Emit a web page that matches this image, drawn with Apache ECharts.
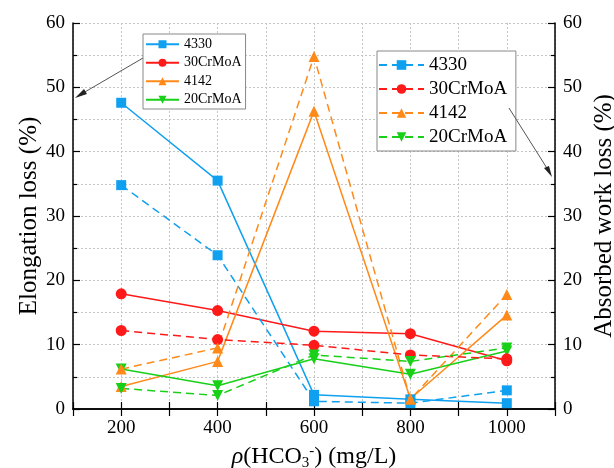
<!DOCTYPE html>
<html><head><meta charset="utf-8">
<script src="https://cdn.jsdelivr.net/npm/echarts@6/dist/echarts.min.js"></script>
<style>html,body{margin:0;padding:0;background:#fff}#c{width:614px;height:468px}</style>
</head><body><div id="c"></div>
<script>
// ---- data ----
const concentrations = [200, 400, 600, 800, 1000];
const xTickLabels = ['200', '400', '600', '800', '1000'];
const steelNames = ['4330', '30CrMoA', '4142', '20CrMoA'];
// Elongation loss (%) - solid lines, left axis
const elong4330 = [47.6, 35.5, 2.2, 1.5, 0.9];
const elong30CrMoA = [17.9, 15.3, 12.1, 11.7, 7.5];
const elong4142 = [3.5, 7.4, 46.3, 1.6, 14.6];
const elong20CrMoA = [6.2, 3.6, 7.8, 5.4, 9.0];
// Absorbed work loss (%) - dashed lines, right axis
const abs4330 = [34.8, 23.9, 1.2, 0.9, 2.9];
const abs30CrMoA = [12.2, 10.8, 9.9, 8.4, 7.8];
const abs4142 = [6.2, 9.5, 54.8, 1.5, 17.8];
const abs20CrMoA = [3.2, 2.1, 8.4, 7.4, 9.5];

const FONT = 'Liberation Serif';
const colors = ['#10a0f0', '#ff1a1a', '#ff8a1a', '#18d018'];
const symbols = ['rect', 'circle', 'triangle', 'path://M0,0 L10,0 L5,9 Z'];
const symSizes = [10, 11, 11, 11];
const elong = [elong4330, elong30CrMoA, elong4142, elong20CrMoA];
const absw = [abs4330, abs30CrMoA, abs4142, abs20CrMoA];

const pairs = arr => concentrations.map((x, i) => [x, arr[i]]);
const series = [];
steelNames.forEach((n, i) => {
  series.push({
    name: n, type: 'line', xAxisIndex: 0, yAxisIndex: 0,
    data: pairs(elong[i]), symbol: symbols[i], symbolSize: symSizes[i],
    itemStyle: {color: colors[i]}, lineStyle: {color: colors[i], width: 1.5}
  });
});
steelNames.forEach((n, i) => {
  series.push({
    name: n + ' ', type: 'line', xAxisIndex: 0, yAxisIndex: 1,
    data: pairs(absw[i]), symbol: symbols[i], symbolSize: symSizes[i],
    itemStyle: {color: colors[i]}, lineStyle: {color: colors[i], width: 1.5, type: [8, 5]}
  });
});

const axisLine = {show: true, lineStyle: {color: '#000', width: 1.5}};
const gridLine = {show: true, lineStyle: {color: '#c4c4c4', type: [2, 2], width: 1}};
const yCommon = {
  type: 'value', min: 0, max: 60, interval: 10,
  axisLine: axisLine,
  axisTick: {show: true, inside: true, length: 7, lineStyle: {color: '#000', width: 1.2}},
  minorTick: {show: true, splitNumber: 2, length: 4, lineStyle: {color: '#000', width: 1.2}},
  axisLabel: {color: '#000', fontFamily: FONT, fontSize: 19, margin: 8},
  nameLocation: 'middle', nameMoveOverlap: false,
  nameTextStyle: {color: '#000', fontFamily: FONT, fontSize: 25}
};

const chart = echarts.init(document.getElementById('c'));
chart.setOption({
  animation: false,
  backgroundColor: '#fff',
  grid: {left: 73, right: 59, top: 23, bottom: 59, containLabel: false, outerBoundsMode: 'none'},
  xAxis: [{
    type: 'value', min: 100, max: 1100, interval: 100, position: 'bottom',
    axisLine: axisLine,
    axisTick: {show: true, inside: true, length: 7, lineStyle: {color: '#000', width: 1.2}},
    axisLabel: {color: '#000', fontFamily: FONT, fontSize: 19, margin: 10,
      formatter: v => { const k = concentrations.indexOf(v); return k >= 0 ? xTickLabels[k] : ''; }},
    splitLine: gridLine,
    name: '{i|ρ}{n|(HCO}{s|3}{p|-}{n|) (mg/L)}', nameLocation: 'middle', nameGap: 33, nameMoveOverlap: false,
    nameTextStyle: {color: '#000', fontFamily: FONT, fontSize: 24,
      rich: {
        i: {fontFamily: FONT, fontSize: 24, fontStyle: 'italic', color: '#000'},
        n: {fontFamily: FONT, fontSize: 24, color: '#000'},
        s: {fontFamily: FONT, fontSize: 15, color: '#000', padding: [14, 0, 0, 0]},
        p: {fontFamily: FONT, fontSize: 15, color: '#000', padding: [0, 0, 10, 0]}
      }}
  }, {
    type: 'value', min: 100, max: 1100, interval: 100, position: 'top',
    axisLine: axisLine,
    axisTick: {show: true, inside: true, length: 7, lineStyle: {color: '#000', width: 1.2}},
    axisLabel: {show: false}, splitLine: {show: false}
  }],
  yAxis: [
    Object.assign({}, yCommon, {position: 'left', name: 'Elongation loss (%)', nameGap: 31,
      splitLine: gridLine, minorSplitLine: gridLine}),
    Object.assign({}, yCommon, {position: 'right', name: 'Absorbed work loss (%)', nameGap: 37,
      splitLine: {show: false}})
  ],
  legend: [{
    data: steelNames, left: 143, top: 34, orient: 'vertical',
    itemWidth: 33, itemHeight: 10, itemGap: 4, padding: [3, 4, 2, 2],
    borderColor: '#888', borderWidth: 1, backgroundColor: '#fff',
    textStyle: {fontFamily: FONT, fontSize: 14, color: '#000', lineHeight: 14.5}
  }, {
    data: steelNames.map(n => n + ' '), left: 377, top: 51, orient: 'vertical',
    itemWidth: 45, itemHeight: 12, itemGap: 4, padding: [4, 4, 4, 1],
    borderColor: '#888', borderWidth: 1, backgroundColor: '#fff',
    textStyle: {fontFamily: FONT, fontSize: 19, color: '#000', lineHeight: 20}
  }],
  graphic: [
    {type: 'line', shape: {x1: 143, y1: 58, x2: 78, y2: 96}, style: {stroke: '#555', lineWidth: 1}, z: 100},
    {type: 'polygon', shape: {points: [[75, 98], [84, 89], [87, 94]]}, style: {fill: '#222'}, z: 100},
    {type: 'line', shape: {x1: 509, y1: 108, x2: 550, y2: 173}, style: {stroke: '#555', lineWidth: 1}, z: 100},
    {type: 'polygon', shape: {points: [[552, 177], [544, 168], [549, 166]]}, style: {fill: '#222'}, z: 100}
  ],
  series: series
});
</script></body></html>
